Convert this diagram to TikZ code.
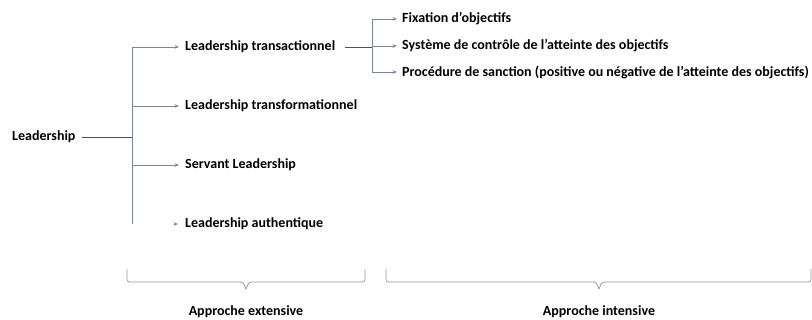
\documentclass[tikz,border=0pt]{standalone}
\usepackage{fontspec}
\setmainfont{Carlito}
\usetikzlibrary{arrows.meta}
\definecolor{darkln}{HTML}{44546A}
\definecolor{branch}{HTML}{7A869C}
\definecolor{bracec}{HTML}{9A9A9A}
\tikzset{
  lbl/.style={anchor=west, inner sep=0pt, font=\fontsize{14}{16}\selectfont\bfseries},
  ctr/.style={anchor=center, inner sep=0pt, font=\fontsize{14}{16}\selectfont\bfseries},
  mainln/.style={draw=darkln, line width=0.9pt},
  brln/.style={draw=branch, line width=0.8pt},
  arr/.style={brln, -{Stealth[length=4.5pt,width=3.6pt]}, line join=miter},
  bracel/.style={draw=bracec, line width=0.8pt, rounded corners=2.5pt}
}
\begin{document}
\begin{tikzpicture}[x=1pt,y=-1pt]
\useasboundingbox (0,0) rectangle (812,320);
% nodes
\node[lbl] (lead) at (12,137) {Leadership};
\node[lbl] (t1) at (185,47) {Leadership transactionnel};
\node[lbl] (t2) at (185,106) {Leadership transformationnel};
\node[lbl] (t3) at (185,165) {Servant Leadership};
\node[lbl] (t4) at (185,224) {Leadership authentique};
\node[lbl] (s1) at (402,19) {Fixation d’objectifs};
\node[lbl] (s2) at (402,46) {Système de contrôle de l’atteinte des objectifs};
\node[lbl] (s3) at (402,72) {Procédure de sanction (positive ou négative de l’atteinte des objectifs)};
\node[ctr] (ext) at (246,312) {Approche extensive};
\node[ctr] (int) at (599,312) {Approche intensive};
% junction coordinates
\coordinate (ja) at (82,137);
\coordinate (jm) at (132,137);
\coordinate (jtop) at (132,47);
\coordinate (jbot) at (132,224);
\coordinate (j2) at (132,106);
\coordinate (j3) at (132,165);
\coordinate (a4) at (173.5,224);
\coordinate (sa) at (345,47);
\coordinate (sm) at (372,47);
\coordinate (stop) at (372,19);
\coordinate (sbot) at (372,72);
\coordinate (sm2) at (372,46);
% main tree
\draw[mainln] (ja) -- (jm);
\draw[brln] (jbot) -- (jtop);
\draw[arr] (jtop) -- ([xshift=-6pt]t1.west);
\draw[arr] (j2) -- ([xshift=-6pt]t2.west);
\draw[arr] (j3) -- ([xshift=-6pt]t3.west);
\draw[arr] (a4) -- ([xshift=-7pt]t4.west);
% sub tree
\draw[mainln] (sa) -- (sm);
\draw[brln] (stop) -- (sbot);
\draw[arr] (stop) -- ([xshift=-5pt]s1.west);
\draw[arr] (sm2) -- ([xshift=-5pt]s2.west);
\draw[arr] (sbot) -- ([xshift=-5pt]s3.west);
% braces
\coordinate (b1l) at (127,269);
\coordinate (b1r) at (365,269);
\coordinate (b1t) at (246,289);
\coordinate (b2l) at (386,269);
\coordinate (b2r) at (811,269);
\coordinate (b2t) at (599,289);
\draw[bracel] (b1l) -- (127,282) -- (243,282) -- (b1t);
\draw[bracel] (b1r) -- (365,282) -- (249,282) -- (b1t);
\draw[bracel] (b2l) -- (386,282) -- (596,282) -- (b2t);
\draw[bracel] (b2r) -- (811,282) -- (602,282) -- (b2t);
\end{tikzpicture}
\end{document}
